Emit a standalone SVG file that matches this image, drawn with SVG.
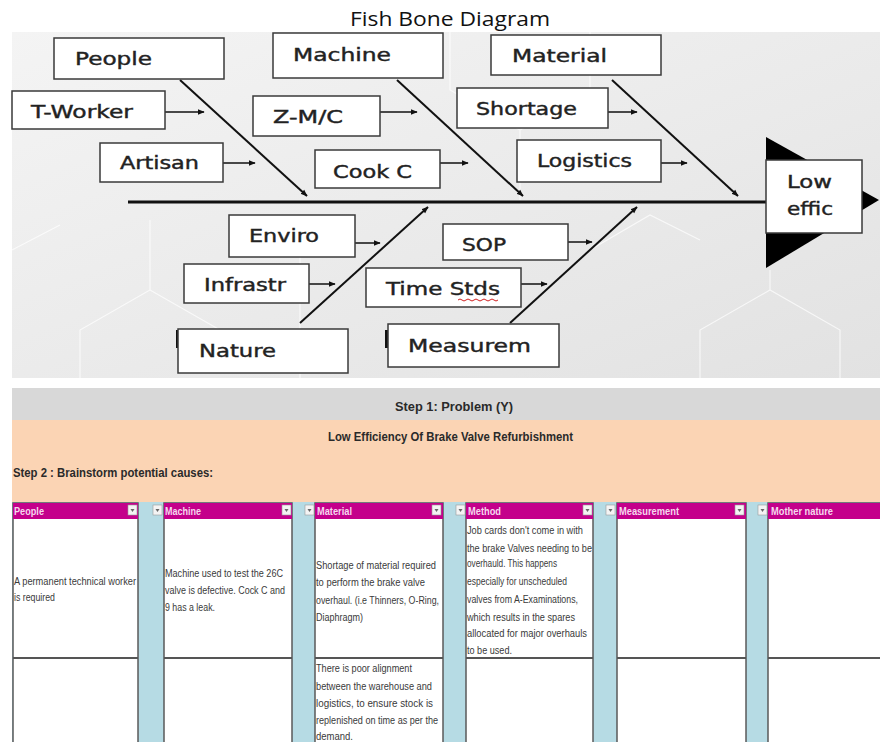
<svg xmlns="http://www.w3.org/2000/svg" width="880" height="742" viewBox="0 0 880 742">
<defs>
<linearGradient id="bg" x1="0" y1="0" x2="1" y2="1">
<stop offset="0" stop-color="#f4f4f4"/>
<stop offset="1" stop-color="#e2e2e2"/>
</linearGradient>
<marker id="ah" viewBox="0 0 10 10" refX="9" refY="5" markerWidth="7" markerHeight="7" markerUnits="userSpaceOnUse" orient="auto">
<path d="M0,1 L10,5 L0,9 z" fill="#111"/>
</marker>
<style>
.box{fill:#fff;stroke:#3a3a3a;stroke-width:1.5}
.lbl{font-family:"DejaVu Sans",Verdana,sans-serif;font-size:17px;fill:#222;stroke:#222;stroke-width:0.4}
.bone{stroke:#111;stroke-width:2;fill:none}
.sub{stroke:#111;stroke-width:1.5;fill:none}
.hex{stroke:#ffffff;stroke-width:1.2;fill:none;opacity:0.7}
.hdr{fill:#c4008b}
.hdrt{font-family:"Liberation Sans",Arial,sans-serif;font-size:10px;font-weight:bold;fill:#f6d8ee}
.col{fill:#ffffff;stroke:#5a5a5a;stroke-width:1.5}
.blue{fill:#b6dbe4}
.btn{fill:#f4f4f4;stroke:#9a9a9a;stroke-width:0.6}
.cell{font-family:"Liberation Sans",Arial,sans-serif;font-size:10px;fill:#3a3a3a}
.bold{font-family:"Liberation Sans",Arial,sans-serif;font-weight:bold;fill:#2a2a2a}
</style>
</defs>
<rect width="880" height="742" fill="#ffffff"/>
<text x="450" y="26" text-anchor="middle" font-family="'Open Sans','Liberation Sans',sans-serif" font-size="20" fill="#111" textLength="200" lengthAdjust="spacingAndGlyphs">Fish Bone Diagram</text>

<g id="background">
<rect x="12" y="32" width="868" height="346" fill="url(#bg)"/>
<path class="hex" d="M80,378 L80,330 L150,290 L150,220 M150,290 L220,330 M450,32 L450,90 L520,130 L590,90 L590,32 M520,130 L520,200 M700,378 L700,330 L770,290 L840,330 L840,378 M770,290 L770,270 M300,250 L300,378 M590,250 L650,215 L700,240 M12,250 L60,225"/>
</g>

<g id="connectors">
<line x1="128" y1="202" x2="768" y2="202" stroke="#111" stroke-width="3"/>
<line class="bone" x1="180" y1="80" x2="307" y2="196" marker-end="url(#ah)"/>
<line class="bone" x1="397" y1="80" x2="523" y2="196" marker-end="url(#ah)"/>
<line class="bone" x1="612" y1="80" x2="738" y2="196" marker-end="url(#ah)"/>
<line class="bone" x1="300" y1="323" x2="428" y2="207" marker-end="url(#ah)"/>
<line class="bone" x1="510" y1="323" x2="637" y2="207" marker-end="url(#ah)"/>
<line class="sub" x1="165" y1="112" x2="204" y2="112" marker-end="url(#ah)"/>
<line class="sub" x1="223" y1="163" x2="255" y2="163" marker-end="url(#ah)"/>
<line class="sub" x1="380" y1="112" x2="417" y2="112" marker-end="url(#ah)"/>
<line class="sub" x1="440" y1="163" x2="468" y2="163" marker-end="url(#ah)"/>
<line class="sub" x1="608" y1="112" x2="637" y2="112" marker-end="url(#ah)"/>
<line class="sub" x1="661" y1="163" x2="687" y2="163" marker-end="url(#ah)"/>
<line class="sub" x1="355" y1="243" x2="380" y2="243" marker-end="url(#ah)"/>
<line class="sub" x1="309" y1="284" x2="335" y2="284" marker-end="url(#ah)"/>
<line class="sub" x1="521" y1="284" x2="547" y2="284" marker-end="url(#ah)"/>
<line class="sub" x1="568" y1="242" x2="592" y2="242" marker-end="url(#ah)"/>
</g>

<g id="head">
<polygon points="766,137 879,200 766,268" fill="#000"/>
<rect class="box" x="766" y="160" width="96" height="73"/>
<text class="lbl" x="787" y="188" textLength="45" lengthAdjust="spacingAndGlyphs">Low</text>
<text class="lbl" x="787" y="215" textLength="46" lengthAdjust="spacingAndGlyphs">effic</text>
</g>

<g id="people"><rect class="box" x="54" y="38" width="170" height="41"/><text class="lbl" x="75" y="65" textLength="77" lengthAdjust="spacingAndGlyphs">People</text></g>
<g id="t-worker"><rect class="box" x="12" y="91" width="153" height="38"/><text class="lbl" x="31" y="118" textLength="102" lengthAdjust="spacingAndGlyphs">T-Worker</text></g>
<g id="artisan"><rect class="box" x="100" y="143" width="123" height="39"/><text class="lbl" x="120" y="169" textLength="79" lengthAdjust="spacingAndGlyphs">Artisan</text></g>
<g id="machine"><rect class="box" x="273" y="33" width="170" height="45"/><text class="lbl" x="293" y="61" textLength="98" lengthAdjust="spacingAndGlyphs">Machine</text></g>
<g id="zmc"><rect class="box" x="253" y="96" width="127" height="40"/><text class="lbl" x="273" y="123" textLength="70" lengthAdjust="spacingAndGlyphs">Z-M/C</text></g>
<g id="cookc"><rect class="box" x="315" y="150" width="125" height="38"/><text class="lbl" x="333" y="178" textLength="79" lengthAdjust="spacingAndGlyphs">Cook C</text></g>
<g id="material"><rect class="box" x="491" y="35" width="170" height="40"/><text class="lbl" x="512" y="62" textLength="95" lengthAdjust="spacingAndGlyphs">Material</text></g>
<g id="shortage"><rect class="box" x="457" y="88" width="151" height="40"/><text class="lbl" x="476" y="115" textLength="101" lengthAdjust="spacingAndGlyphs">Shortage</text></g>
<g id="logistics"><rect class="box" x="517" y="140" width="144" height="42"/><text class="lbl" x="537" y="167" textLength="95" lengthAdjust="spacingAndGlyphs">Logistics</text></g>
<g id="enviro"><rect class="box" x="229" y="215" width="126" height="42"/><text class="lbl" x="249" y="242" textLength="70" lengthAdjust="spacingAndGlyphs">Enviro</text></g>
<g id="infrastr"><rect class="box" x="184" y="264" width="125" height="39"/><text class="lbl" x="204" y="291" textLength="82" lengthAdjust="spacingAndGlyphs">Infrastr</text></g>
<g id="nature"><rect x="176" y="330" width="3" height="18" fill="#111"/><rect class="box" x="178" y="329" width="170" height="44"/><text class="lbl" x="199" y="357" textLength="77" lengthAdjust="spacingAndGlyphs">Nature</text></g>
<g id="sop"><rect class="box" x="443" y="224" width="125" height="36"/><text class="lbl" x="462" y="251" textLength="44" lengthAdjust="spacingAndGlyphs">SOP</text></g>
<g id="timestds"><rect class="box" x="366" y="268" width="155" height="39"/><text class="lbl" x="386" y="295" textLength="114" lengthAdjust="spacingAndGlyphs">Time Stds</text><path d="M458,300 q2,-2 4,0 t4,0 t4,0 t4,0 t4,0 t4,0 t4,0 t4,0 t4,0 t4,0" fill="none" stroke="#d02020" stroke-width="1"/></g>
<g id="measurem"><rect x="385" y="330" width="3" height="18" fill="#111"/><rect class="box" x="388" y="324" width="171" height="43"/><text class="lbl" x="408" y="352" textLength="123" lengthAdjust="spacingAndGlyphs">Measurem</text></g>

<g id="table">
<rect x="12" y="388" width="868" height="32" fill="#d8d8d8"/>
<rect x="12" y="420" width="868" height="82" fill="#fbd4b4"/>
<text class="bold" x="395" y="411" font-size="13" textLength="118" lengthAdjust="spacingAndGlyphs">Step 1: Problem (Y)</text>
<text class="bold" x="328" y="441" font-size="12" textLength="245" lengthAdjust="spacingAndGlyphs">Low Efficiency Of Brake Valve Refurbishment</text>
<text class="bold" x="13" y="477" font-size="12" textLength="200" lengthAdjust="spacingAndGlyphs">Step 2 : Brainstorm potential causes:</text>

<rect class="blue" x="12" y="502" width="868" height="240"/>
<rect class="col" x="13" y="503" width="125" height="245"/>
<rect class="col" x="164" y="503" width="128" height="245"/>
<rect class="col" x="315" y="503" width="128" height="245"/>
<rect class="col" x="466" y="503" width="127" height="245"/>
<rect class="col" x="617" y="503" width="129" height="245"/>
<rect class="col" x="768" y="503" width="120" height="245"/>
<g stroke="#555" stroke-width="2">
<line x1="13" y1="658" x2="138" y2="658"/>
<line x1="164" y1="658" x2="292" y2="658"/>
<line x1="315" y1="658" x2="443" y2="658"/>
<line x1="466" y1="658" x2="593" y2="658"/>
<line x1="617" y1="658" x2="746" y2="658"/>
<line x1="768" y1="658" x2="880" y2="658"/>
</g>
<rect class="hdr" x="13" y="503" width="125" height="16"/>
<rect class="hdr" x="164" y="503" width="128" height="16"/>
<rect class="hdr" x="315" y="503" width="128" height="16"/>
<rect class="hdr" x="466" y="503" width="127" height="16"/>
<rect class="hdr" x="617" y="503" width="129" height="16"/>
<rect class="hdr" x="768" y="503" width="112" height="16"/>
<g>
<rect class="btn" x="128" y="505" width="9" height="10"/>
<rect class="btn" x="282" y="505" width="9" height="10"/>
<rect class="btn" x="432" y="505" width="9" height="10"/>
<rect class="btn" x="583" y="505" width="9" height="10"/>
<rect class="btn" x="735" y="505" width="9" height="10"/>
<rect class="btn" x="153" y="505" width="9" height="10"/>
<rect class="btn" x="305" y="505" width="9" height="10"/>
<rect class="btn" x="456" y="505" width="9" height="10"/>
<rect class="btn" x="606" y="505" width="9" height="10"/>
<rect class="btn" x="758" y="505" width="9" height="10"/>
</g>
<g fill="#666">
<path d="M130.5,509 h4 l-2,3 z"/><path d="M284.5,509 h4 l-2,3 z"/><path d="M434.5,509 h4 l-2,3 z"/><path d="M585.5,509 h4 l-2,3 z"/><path d="M737.5,509 h4 l-2,3 z"/>
<path d="M155.5,509 h4 l-2,3 z"/><path d="M307.5,509 h4 l-2,3 z"/><path d="M458.5,509 h4 l-2,3 z"/><path d="M608.5,509 h4 l-2,3 z"/><path d="M760.5,509 h4 l-2,3 z"/>
</g>
<text class="hdrt" x="14" y="515" textLength="30" lengthAdjust="spacingAndGlyphs">People</text>
<text class="hdrt" x="165" y="515" textLength="36" lengthAdjust="spacingAndGlyphs">Machine</text>
<text class="hdrt" x="317" y="515" textLength="35" lengthAdjust="spacingAndGlyphs">Material</text>
<text class="hdrt" x="468" y="515" textLength="33" lengthAdjust="spacingAndGlyphs">Method</text>
<text class="hdrt" x="619" y="515" textLength="60" lengthAdjust="spacingAndGlyphs">Measurement</text>
<text class="hdrt" x="771" y="515" textLength="62" lengthAdjust="spacingAndGlyphs">Mother nature</text>

<text class="cell" x="14" y="585" textLength="122" lengthAdjust="spacingAndGlyphs">A permanent technical worker</text>
<text class="cell" x="14" y="601" textLength="41" lengthAdjust="spacingAndGlyphs">is required</text>

<text class="cell" x="165" y="577" textLength="118" lengthAdjust="spacingAndGlyphs">Machine used to test the 26C</text>
<text class="cell" x="165" y="594" textLength="120" lengthAdjust="spacingAndGlyphs">valve is defective. Cock C and</text>
<text class="cell" x="165" y="611" textLength="50" lengthAdjust="spacingAndGlyphs">9 has a leak.</text>

<text class="cell" x="316" y="569" textLength="120" lengthAdjust="spacingAndGlyphs">Shortage of material required</text>
<text class="cell" x="316" y="586" textLength="109" lengthAdjust="spacingAndGlyphs">to perform the brake valve</text>
<text class="cell" x="316" y="604" textLength="123" lengthAdjust="spacingAndGlyphs">overhaul. (i.e Thinners, O-Ring,</text>
<text class="cell" x="316" y="621" textLength="47" lengthAdjust="spacingAndGlyphs">Diaphragm)</text>
<text class="cell" x="316" y="672" textLength="96" lengthAdjust="spacingAndGlyphs">There is poor alignment</text>
<text class="cell" x="316" y="690" textLength="116" lengthAdjust="spacingAndGlyphs">between the warehouse and</text>
<text class="cell" x="316" y="707" textLength="117" lengthAdjust="spacingAndGlyphs">logistics, to ensure stock is</text>
<text class="cell" x="316" y="724" textLength="122" lengthAdjust="spacingAndGlyphs">replenished on time as per the</text>
<text class="cell" x="316" y="740" textLength="37" lengthAdjust="spacingAndGlyphs">demand.</text>

<text class="cell" x="467" y="534" textLength="116" lengthAdjust="spacingAndGlyphs">Job cards don't come in with</text>
<text class="cell" x="467" y="552" textLength="125" lengthAdjust="spacingAndGlyphs">the brake Valves needing to be</text>
<text class="cell" x="467" y="567" textLength="90" lengthAdjust="spacingAndGlyphs">overhauld. This happens</text>
<text class="cell" x="467" y="585" textLength="100" lengthAdjust="spacingAndGlyphs">especially for unscheduled</text>
<text class="cell" x="467" y="603" textLength="111" lengthAdjust="spacingAndGlyphs">valves from A-Examinations,</text>
<text class="cell" x="467" y="621" textLength="108" lengthAdjust="spacingAndGlyphs">which results in the spares</text>
<text class="cell" x="467" y="637" textLength="120" lengthAdjust="spacingAndGlyphs">allocated for major overhauls</text>
<text class="cell" x="467" y="654" textLength="45" lengthAdjust="spacingAndGlyphs">to be used.</text>
</g>
</svg>
